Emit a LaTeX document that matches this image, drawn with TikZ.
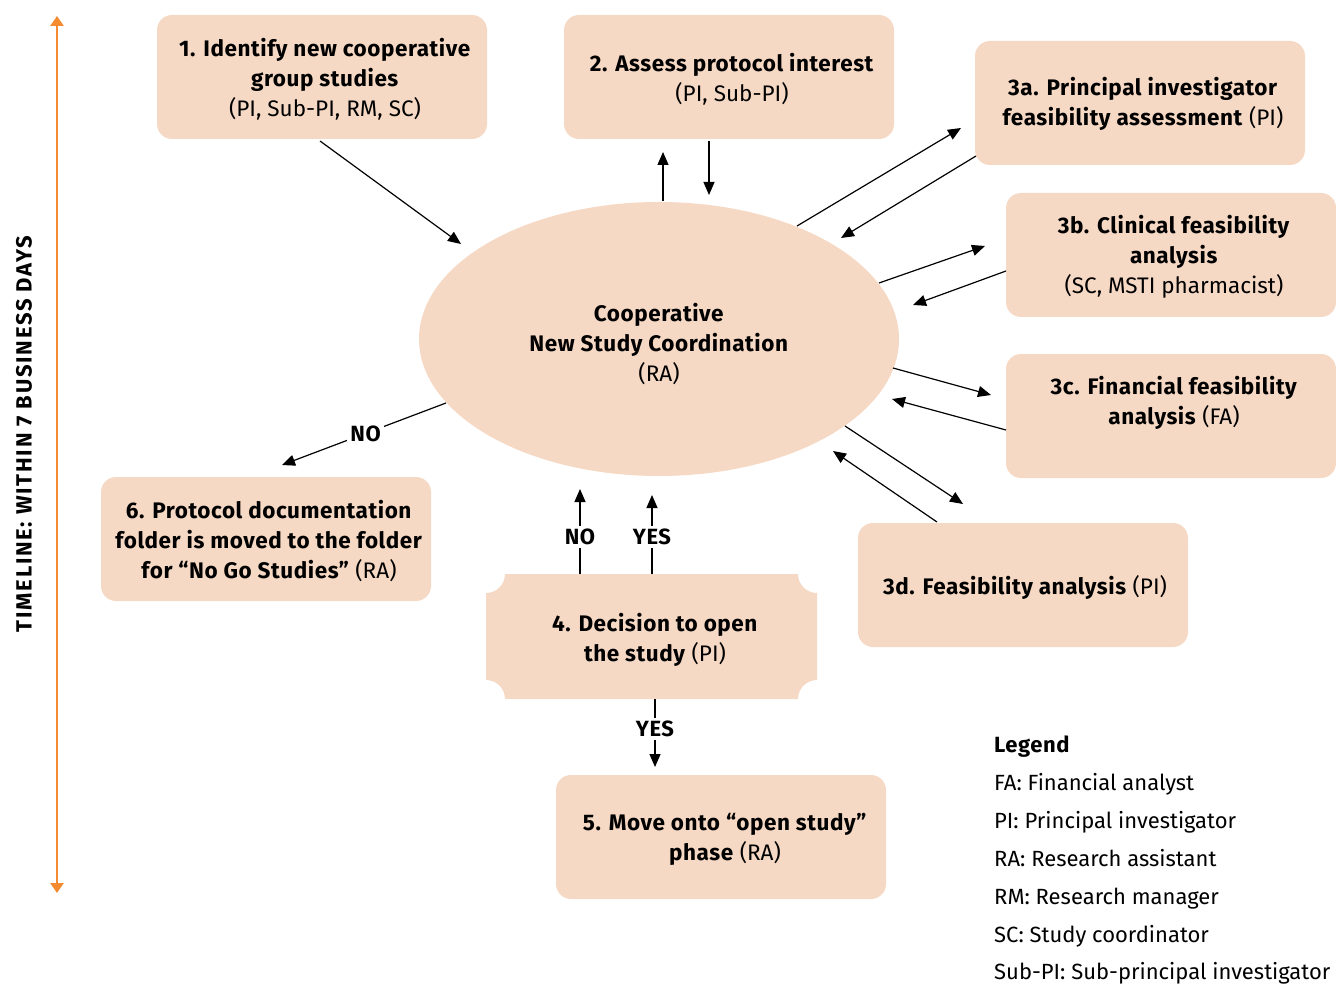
\documentclass[tikz,border=0pt]{standalone}
\usepackage{fontspec}
\setmainfont{Fira Sans}[BoldFeatures={LetterSpace=2.5}]
\newfontfamily\tlfont{Fira Sans}[LetterSpace=8, BoldFeatures={LetterSpace=8}]
\usetikzlibrary{shapes.geometric,arrows.meta}
\definecolor{peach}{HTML}{F6D9C4}
\definecolor{tlorange}{HTML}{F58A2E}
\tikzset{
  box/.style={fill=peach, rounded corners=15pt, minimum width=330pt, minimum height=124pt, inner sep=0pt},
  txt/.style={align=center, inner sep=0pt, font=\fontsize{22.5}{30}\selectfont},
  conn/.style={line width=1.2pt, -{Triangle[length=13pt,width=11pt]}},
  lbl/.style={fill=white, inner sep=3pt, font=\bfseries\fontsize{22}{24}\selectfont},
  legtxt/.style={anchor=west, inner sep=0pt, text height=16pt, text depth=5pt, font=\fontsize{22}{24}\selectfont}
}
\begin{document}
\begin{tikzpicture}[x=1pt,y=-1pt]
\useasboundingbox (0,0) rectangle (1336,984);
% timeline
\draw[tlorange, line width=2.5pt, {Triangle[length=10pt,width=13pt]}-{Triangle[length=10pt,width=13pt]}] (57,16) -- (57,893);
\node[rotate=90, font=\tlfont\bfseries\fontsize{22}{24}\selectfont] (tl) at (24,434) {TIMELINE: WITHIN 7 BUSINESS DAYS};
% shapes
\node[ellipse, fill=peach, minimum width=480pt, minimum height=274pt, inner sep=0pt] (e) at (659,339) {};
\node[box] (b1) at (322,77) {};
\node[box] (b2) at (729,77) {};
\node[box] (b3a) at (1140,103) {};
\node[box] (b3b) at (1171,255) {};
\node[box] (b3c) at (1171,416) {};
\node[box] (b3d) at (1023,585) {};
\node[box] (b6) at (266,539) {};
\node[box] (b5) at (721,837) {};
% box 4 with concave corners
\fill[peach] (505,574) -- (798,574) .. controls (798,584.5) and (806.5,593) .. (817,593)
  -- (817,680) .. controls (806.5,680) and (798,688.5) .. (798,699)
  -- (505,699) .. controls (505,688.5) and (496.5,680) .. (486,680)
  -- (486,593) .. controls (496.5,593) and (505,584.5) .. (505,574) -- cycle;
\coordinate (b4) at (651.5,636.5);
% texts
\node[txt] (te) at (659,344) {\textbf{Cooperative}\\\textbf{New Study Coordination}\\(RA)};
\node[txt] (t1) at (325,79) {\textbf{1. Identify new cooperative}\\\textbf{group studies}\\(PI, Sub-PI, RM, SC)};
\node[txt] (t2) at (732,79) {\textbf{2. Assess protocol interest}\\(PI, Sub-PI)};
\node[txt] (t3a) at (1143,104) {\textbf{3a. Principal investigator}\\\textbf{feasibility assessment} (PI)};
\node[txt] (t3b) at (1174,257) {\textbf{3b. Clinical feasibility}\\\textbf{analysis}\\(SC, MSTI pharmacist)};
\node[txt] (t3c) at (1174,403) {\textbf{3c. Financial feasibility}\\\textbf{analysis} (FA)};
\node[txt] (t3d) at (1025,587) {\textbf{3d. Feasibility analysis} (PI)};
\node[txt] (t6) at (269,541) {\textbf{6. Protocol documentation}\\\textbf{folder is moved to the folder}\\\textbf{for ``No Go Studies''} (RA)};
\node[txt] (t4) at (655,640) {\textbf{4. Decision to open}\\\textbf{the study} (PI)};
\node[txt] (t5) at (725,839) {\textbf{5. Move onto ``open study''}\\\textbf{phase} (RA)};
% coordinates for connector ends
\coordinate (c1a) at (320,141); \coordinate (c1b) at (461,244);
\coordinate (c2a) at (663,201); \coordinate (c2b) at (663,152);
\coordinate (c2c) at (709,141); \coordinate (c2d) at (709,195);
\coordinate (c3aa) at (797,226); \coordinate (c3ab) at (961,128);
\coordinate (c3ac) at (976,156); \coordinate (c3ad) at (841,238);
\coordinate (c3ba) at (879,283); \coordinate (c3bb) at (985,246);
\coordinate (c3bc) at (1006,271); \coordinate (c3bd) at (913,305);
\coordinate (c3ca) at (893,368); \coordinate (c3cb) at (991,395);
\coordinate (c3cc) at (1006,430); \coordinate (c3cd) at (892,399);
\coordinate (c3da) at (845,426); \coordinate (c3db) at (963,504);
\coordinate (c3dc) at (937,522); \coordinate (c3dd) at (833,451);
\coordinate (c6a) at (446,403); \coordinate (c6b) at (282,465);
\coordinate (c4na) at (580,574); \coordinate (c4nb) at (580,489);
\coordinate (c4ya) at (652,574); \coordinate (c4yb) at (652,495);
\coordinate (c5a) at (655,699); \coordinate (c5b) at (655,767);
% connectors
\draw[conn] (c1a) -- (c1b);
\draw[conn] (c2a) -- (c2b);
\draw[conn] (c2c) -- (c2d);
\draw[conn] (c3aa) -- (c3ab);
\draw[conn] (c3ac) -- (c3ad);
\draw[conn] (c3ba) -- (c3bb);
\draw[conn] (c3bc) -- (c3bd);
\draw[conn] (c3ca) -- (c3cb);
\draw[conn] (c3cc) -- (c3cd);
\draw[conn] (c3da) -- (c3db);
\draw[conn] (c3dc) -- (c3dd);
\draw[conn] (c6a) -- node[lbl, pos=0.49] (l6) {NO} (c6b);
\draw[conn] (c4na) -- node[lbl, pos=0.435] (l4n) {NO} (c4nb);
\draw[conn] (c4ya) -- node[lbl, pos=0.47] (l4y) {YES} (c4yb);
\draw[conn] (c5a) -- node[lbl, pos=0.44] (l5) {YES} (c5b);
% legend
\node[legtxt, font=\bfseries\fontsize{22}{24}\selectfont] (lg0) at (994,747) {Legend};
\node[legtxt] (lg1) at (994,785) {FA: Financial analyst};
\node[legtxt] (lg2) at (994,823) {PI: Principal investigator};
\node[legtxt] (lg3) at (994,861) {RA: Research assistant};
\node[legtxt] (lg4) at (994,899) {RM: Research manager};
\node[legtxt] (lg5) at (994,937) {SC: Study coordinator};
\node[legtxt] (lg6) at (994,974) {Sub-PI: Sub-principal investigator};
\end{tikzpicture}
\end{document}
